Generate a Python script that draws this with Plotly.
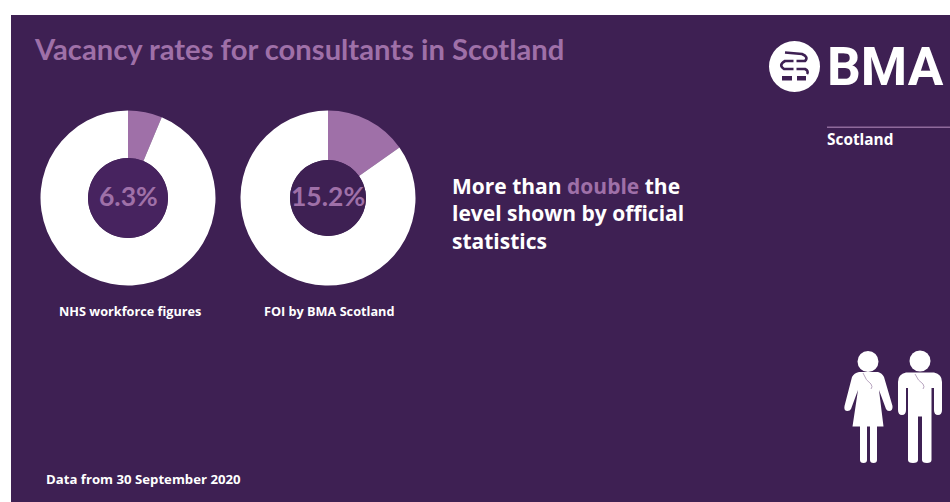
import plotly.graph_objects as go

WIDTH, HEIGHT = 950, 502

# Vacancy figures
sources = ["NHS workforce figures", "FOI by BMA Scotland"]
vacancy_rates = [6.3, 15.2]
rate_labels = ["6.3%", "15.2%"]
headline = "Vacancy rates for consultants in Scotland"
footnote = "Data from 30 September 2020"

# Palette
BG = "#3e2053"
HOLE = ["#47235f", "#3e2053"]
MAUVE = "#9f70a8"
WHITE = "#ffffff"

TITLE_FONT = "Lato"
BODY_FONT = "Open Sans"
LOGO_FONT = "Roboto"

# Donut placement, in page pixels
centres_x = [128, 328]
centre_y = 198
outer_r = [87.5, 87.5]
inner_r = [40, 38]


def rect(x0, y0, x1, y1, color, layer="above"):
    return dict(type="rect", xref="x", yref="y", x0=x0, y0=y0, x1=x1, y1=y1,
                fillcolor=color, line_width=0, layer=layer)


def disc(cx, cy, r, color):
    return dict(type="circle", xref="x", yref="y", x0=cx - r, y0=cy - r,
                x1=cx + r, y1=cy + r, fillcolor=color, line_width=0, layer="above")


def poly(path, color):
    return dict(type="path", xref="x", yref="y", path=path, fillcolor=color,
                line_width=0, layer="above")


def stroke(path, color, width):
    return dict(type="path", xref="x", yref="y", path=path,
                line=dict(color=color, width=width), layer="above")


fig = go.Figure()

for i, rate in enumerate(vacancy_rates):
    cx, r = centres_x[i], outer_r[i]
    fig.add_trace(go.Pie(
        values=[rate, 100 - rate],
        labels=["Vacant", "Filled"],
        sort=False,
        direction="clockwise",
        rotation=0,
        hole=inner_r[i] / r,
        marker=dict(colors=[MAUVE, WHITE], line=dict(width=0)),
        textinfo="none",
        hoverinfo="label+percent",
        showlegend=False,
        domain=dict(x=[(cx - r) / WIDTH, (cx + r) / WIDTH],
                    y=[1 - (centre_y + r) / HEIGHT, 1 - (centre_y - r) / HEIGHT]),
    ))

shapes = [
    rect(0, 0, WIDTH, HEIGHT, "#ffffff", "below"),
    rect(11, 15, WIDTH, HEIGHT, BG, "below"),
    rect(827, 126.5, WIDTH, 128, "#8f6a9c"),
]
for cx, r, c in zip(centres_x, inner_r, HOLE):
    shapes.append(disc(cx, centre_y, r, c))

# Logo roundel: serpent and staff cut out of a white disc
shapes.append(disc(794.5, 66.5, 25.5, WHITE))
shapes += [
    stroke("M 785 52.5 L 802 54 Q 809 57 805 61 L 785 61 Q 778 65 784 69 L 805 69 "
           "Q 809 71 807 74", BG, 2.6),
    rect(782, 76, 792, 80.5, BG),
    rect(797, 76, 806, 80.5, BG),
    rect(793.5, 57, 796.5, 84, WHITE),
]

# Female figure
shapes += [
    disc(868, 361.5, 10.5, WHITE),
    poly("M 859 372 L 878 372 Q 882 373 884 377 L 892.5 406 Q 893 411 889 411 Q 887 411 886 409 "
         "L 879 390 L 883.5 426.5 L 877 426.5 L 877 460 Q 877 463 873.5 463 Q 870 463 870 460 "
         "L 870 426.5 L 867 426.5 L 867 460 Q 867 463 863.5 463 Q 860 463 860 460 L 860 426.5 "
         "L 852.5 426.5 L 858 390 L 851 409 Q 850 411 847.5 411 Q 843.5 411 844.5 406 L 852 377 "
         "Q 854 373 859 372 Z", WHITE),
    stroke("M 863 373 Q 866 381 871 384 Q 873 387 871 389", "#b8a5c0", 1),
]
# Male figure
shapes += [
    disc(920, 361, 10.5, WHITE),
    poly("M 906 372.5 L 934 372.5 Q 942 374 942 382 L 942 410 Q 942 415 938 415 Q 934 415 934 410 "
         "L 934 388 L 931.5 388 L 931.5 460 Q 931.5 463 927 463 Q 922 463 922 460 L 922 416.5 "
         "L 918 416.5 L 918 460 Q 918 463 913 463 Q 908 463 908 460 L 908 388 L 906 388 L 906 410 "
         "Q 906 415 902 415 Q 898 415 898 410 L 898 382 Q 898 374 906 372.5 Z", WHITE),
    stroke("M 915 374 Q 918 381 923 384 Q 925 387 923 389", "#b8a5c0", 1),
]


def label(x, y, text, size, color=WHITE, family=BODY_FONT, anchor="left"):
    return dict(xref="x", yref="y", x=x, y=y, text="<b>%s</b>" % text, showarrow=False,
                xanchor=anchor, yanchor="middle", align=anchor,
                font=dict(family=family, size=size, color=color))


callout = ('More than <span style="color:%s">double</span> the<br>'
           "level shown by official<br>statistics" % MAUVE)

annotations = [
    label(32, 48, headline, 29.2, MAUVE, TITLE_FONT),
    label(825, 67, "BMA", 53, WHITE, LOGO_FONT),
    label(825, 139.5, "Scotland", 15.4),
    label(450, 213, callout, 21),
    label(44, 478.5, footnote, 13.2),
]
for i, cx in enumerate(centres_x):
    annotations.append(label(cx, centre_y - 2, rate_labels[i], 26.5, MAUVE, TITLE_FONT, "center"))
    annotations.append(label(cx + 2 if i == 0 else cx + 1, 311, sources[i], 12.7, anchor="center"))

fig.update_layout(
    width=WIDTH, height=HEIGHT,
    margin=dict(l=0, r=0, t=0, b=0),
    paper_bgcolor="#ffffff",
    plot_bgcolor="rgba(0,0,0,0)",
    xaxis=dict(range=[0, WIDTH], visible=False, fixedrange=True),
    yaxis=dict(range=[HEIGHT, 0], visible=False, fixedrange=True),
    shapes=shapes,
    annotations=annotations,
)

fig.write_html("out.html", config=dict(displayModeBar=False))
